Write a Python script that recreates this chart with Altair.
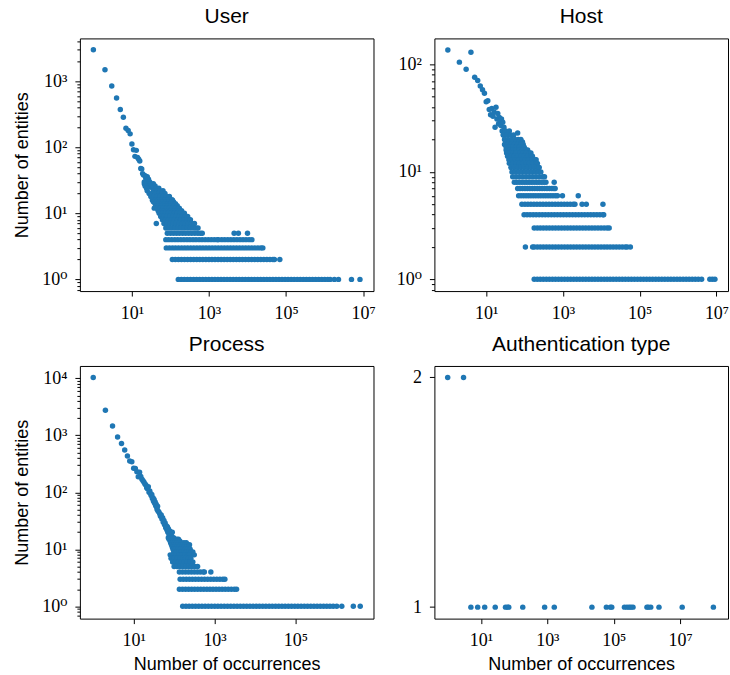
import altair as alt
import pandas as pd

# ---------------- data ----------------
titles = ["User", "Host", "Process", "Authentication type"]
x_title = "Number of occurrences"
y_title = "Number of entities"

# ----- User: single points of the steep head, then rows of equal y -----
user_points = [
    (1, 3000), (2, 1500), (3, 850), (4, 560), (5, 375), (6, 285), (7, 195), (8, 180), (9, 160), (10, 112),
    (11, 92), (12, 73), (13, 90), (14, 70), (15, 66), (16, 62), (17, 48), (18, 47), (19, 40), (20, 38),
    (21, 30), (22, 37), (23, 34), (24, 31), (25, 36), (26, 29), (27, 33), (28, 26), (29, 30), (30, 25),
    (43, 7), (112, 16), (124, 13), (200, 10), (300, 8),
]
user_rows = [
    (28, [21, 31, 36]),
    (26, [22, 33, 40]),
    (24, [24, 35, 42, 50]),
    (22, [25, 36, 44, 53, 64]),
    (20, [28, 34, 41, 50, 60, 72]),
    (18, [31, 37, 45, 54, 65, 78, 94]),
    (16, [34, 41, 49, 59, 71, 85, 102, 110]),
    (15, [36, 44, 53, 64, 77, 92, 108, 120]),
    (14, [40, 48, 58, 70, 84, 100, 118, 135]),
    (13, [42, 50, 60, 72, 86, 103, 125, 150]),
    (12, [38, 45, 54, 65, 78, 94, 113, 135, 155, 170]),
    (11, [48, 58, 69, 83, 100, 120, 144, 172, 195]),
    (10, [51, 61, 73, 88, 105, 126, 151, 181, 230]),
    (9, [56, 67, 80, 96, 115, 138, 166, 199, 239, 280]),
    (8, [62, 74, 89, 107, 128, 154, 185, 222, 266, 330]),
    (7, [68, 82, 98, 118, 141, 170, 204, 244, 293, 352, 420]),
    (6, [76, 91, 109, 131, 157, 189, 226, 272, 326, 391, 460, 520]),
    (5, [83, 100, 120, 144, 172, 207, 248, 298, 357, 429, 515, 600, 670, 4500, 5800, 10000]),
    (4, [76, 90, 108, 130, 155, 186, 223, 268, 320, 385, 460, 555, 665, 800, 960, 1150, 1380,
         1650, 1750, 2130, 2550, 3070, 3680, 4420, 5300, 6360, 7630, 9150, 11000, 13000]),
    (3, [78, 94, 113, 135, 162, 195, 234, 280, 337, 404, 485, 582, 698, 838, 1005, 1206, 1447,
         1737, 2084, 2500, 3000, 3600, 4320, 5190, 6220, 7470, 8960, 10750, 12900, 15500,
         18600, 22300, 25000]),
    (2, [112, 134, 161, 193, 232, 278, 334, 401, 481, 577, 692, 831, 997, 1196, 1435, 1722,
         2067, 2480, 2976, 3571, 4285, 5142, 6171, 7405, 8886, 10660, 12800, 15360, 18430,
         22100, 26500, 31800, 38200, 45800, 50000, 69000]),
    (1, [160, 192, 230, 276, 331, 398, 477, 573, 687, 825, 990, 1190, 1425, 1710, 2050, 2460,
         2950, 3550, 4250, 5100, 6120, 7350, 8820, 10600, 12700, 15200, 18300, 21900, 26300,
         31600, 37900, 45500, 54600, 65500, 78600, 94300, 113000, 136000, 163000, 196000,
         235000, 282000, 338000, 406000, 487000, 585000, 702000, 842000, 1010000, 1210000,
         1400000, 1800000, 2300000, 5000000, 8300000]),
]

# ----- Host -----
host_points = [
    (1, 136), (2, 105), (3, 90), (4, 130), (5, 76), (6, 71), (7, 63), (8, 58), (9, 54), (10, 45),
    (11, 46), (12, 38), (13, 34), (14, 39), (15, 33), (16, 36), (17, 26), (18, 40), (19, 31), (20, 35),
    (21, 28), (22, 32), (23, 30), (24, 27), (25, 31), (26, 24), (27, 29), (28, 22), (29, 26), (30, 23),
    (66, 23),
]
host_rows = [
    (24, [32, 40]),
    (22, [28, 35, 43, 52]),
    (20, [30, 37, 46, 56, 68, 80]),
    (19, [32, 39, 48, 59, 72, 88]),
    (18, [30, 36, 44, 54, 66, 81, 92]),
    (17, [33, 40, 49, 60, 73, 89, 98]),
    (16, [33, 40, 49, 60, 73, 89, 109, 120]),
    (15, [34, 41, 50, 61, 75, 91, 111, 135, 146]),
    (14, [36, 44, 54, 66, 80, 98, 120, 146, 160]),
    (13, [39, 47, 57, 70, 85, 104, 127, 155, 189, 200]),
    (12, [40, 49, 60, 73, 89, 109, 133, 162, 198, 215]),
    (11, [44, 54, 66, 80, 98, 120, 146, 178, 217, 240]),
    (10, [47, 57, 70, 85, 104, 127, 155, 189, 230, 265]),
    (9, [49, 60, 73, 89, 109, 133, 162, 198, 241, 294, 330]),
    (8, [54, 62, 72, 84, 97, 112, 130, 150, 175, 203, 235, 272, 315, 360, 590]),
    (7, [66, 76, 88, 102, 118, 137, 159, 184, 213, 247, 286, 331, 384, 445, 515, 580, 625]),
    (6, [70, 81, 94, 109, 126, 146, 169, 196, 227, 263, 305, 353, 409, 474, 549, 636, 720,
         970, 2500]),
    (5, [85, 102, 122, 146, 175, 210, 252, 302, 362, 434, 520, 624, 748, 897, 1076, 1290,
         1547, 1855, 2050, 3150, 4050, 11000]),
    (4, [97, 116, 139, 167, 200, 240, 288, 345, 414, 497, 596, 715, 858, 1030, 1235, 1482,
         1778, 2133, 2560, 3070, 3684, 4420, 5300, 6360, 7630, 9160, 11000, 11500]),
    (3, [178, 214, 256, 307, 369, 442, 531, 637, 764, 917, 1100, 1320, 1585, 1900, 2280, 2740,
         3290, 3940, 4730, 5680, 6810, 8180, 9810, 11800, 14100, 16000]),
    (2, [105, 162, 178, 214, 256, 307, 369, 442, 531, 637, 764, 917, 1100, 1320, 1585, 1900,
         2280, 2740, 3290, 3940, 4730, 5680, 6810, 8180, 9810, 11800, 14100, 16900, 20300,
         24400, 29300, 35100, 42100, 47000, 57000]),
    (1, [178, 214, 256, 307, 369, 442, 531, 637, 764, 917, 1100, 1320, 1585, 1900, 2280, 2740,
         3290, 3940, 4730, 5680, 6810, 8180, 9810, 11800, 14100, 16900, 20300, 24400, 29300,
         35100, 42100, 50600, 60700, 72800, 87400, 105000, 126000, 151000, 181000, 217000,
         261000, 313000, 376000, 451000, 541000, 649000, 779000, 935000, 1120000, 1350000,
         1620000, 1940000, 2330000, 2800000, 3360000, 4100000, 6700000, 7800000, 9100000]),
]

# ----- Process -----
proc_points = [
    (1, 10300), (2, 2750), (3, 1450), (4, 930), (5, 720), (6, 550), (7, 435), (8, 355), (9, 345), (10, 265),
    (11, 262), (12, 230), (13, 188), (14, 225), (15, 190), (16, 170), (17, 160), (18, 150), (19, 140), (20, 135),
    (21, 120), (22, 115), (23, 125), (24, 100), (25, 106), (26, 95), (27, 88), (28, 92), (29, 78), (30, 80),
    (31, 70), (32, 75), (33, 64), (34, 68), (35, 58), (36, 62), (37, 55), (38, 50), (39, 57), (40, 47),
    (42, 45), (44, 42), (46, 38), (48, 40), (50, 34), (52, 36), (54, 30), (56, 32), (58, 27), (60, 29),
    (62, 24), (64, 26), (66, 22), (68, 25), (70, 20), (72, 23), (75, 18), (78, 21), (81, 16), (84, 19),
    (87, 17), (90, 20),
]
proc_rows = [
    (16, [72, 80, 88, 97]),
    (15, [75, 84, 93, 104, 116, 128]),
    (14, [80, 90, 100, 112, 125, 138]),
    (13, [82, 93, 105, 118, 133, 150, 175, 200]),
    (12, [86, 98, 111, 126, 143, 162, 185, 210, 240]),
    (11, [90, 103, 118, 135, 155, 178, 205, 230]),
    (10, [94, 108, 124, 142, 163, 187, 215, 250]),
    (9, [98, 113, 130, 150, 173, 200, 230, 265, 290]),
    (8, [80, 95, 112, 132, 156, 184, 217, 240, 315]),
    (7, [84, 88, 100, 118, 139, 164, 193, 228, 260]),
    (6, [92, 108, 127, 150, 177, 209, 246, 290]),
    (5, [100, 118, 140, 165, 195, 230, 270, 320, 380]),
    (4, [135, 160, 190, 225, 266, 315, 373, 442, 523, 560, 810]),
    (3, [141, 168, 200, 238, 283, 337, 401, 477, 567, 675, 803, 955, 1136, 1352, 1608, 1800]),
    (2, [135, 161, 192, 228, 271, 322, 383, 456, 543, 646, 768, 914, 1088, 1294, 1540, 1832,
         2180, 2594, 3087, 3500]),
    (1, [163, 196, 235, 282, 338, 406, 487, 584, 701, 841, 1010, 1210, 1450, 1740, 2090, 2510,
         3010, 3610, 4330, 5200, 6240, 7490, 8990, 10800, 12900, 15500, 18600, 22400, 26800,
         32200, 38600, 46400, 55600, 66800, 80100, 96100, 115000, 138000, 166000, 199000,
         239000, 287000, 344000, 413000, 496000, 595000, 714000, 857000, 1050000, 1400000,
         2700000, 4000000]),
]

# ----- Authentication type -----
auth_x = [1, 3, 5, 8, 13, 27, 55, 63, 69, 182, 830, 1620, 22000, 60000, 79000, 87000, 210000,
          250000, 290000, 330000, 380000, 1000000, 1100000, 1300000, 2300000, 11500000, 100000000]
auth_y = [2, 2, 1, 1, 1, 1, 1, 1, 1, 1, 1, 1, 1, 1, 1, 1, 1, 1, 1, 1, 1, 1, 1, 1, 1, 1, 1]

# tick values
x_ticks = [10, 1000, 100000, 10000000]
x_ticks_proc = [10, 1000, 100000]
user_y_ticks = [1, 10, 100, 1000]
host_y_ticks = [1, 10, 100]
proc_y_ticks = [1, 10, 100, 1000, 10000]
auth_y_ticks = [1, 2]


# ---------------- build tables ----------------
def table(points, rows):
    xs = [p[0] for p in points]
    ys = [p[1] for p in points]
    for yv, xl in rows:
        xs += list(xl)
        ys += [yv] * len(xl)
    return pd.DataFrame({"x": xs, "y": ys})


user_df = table(user_points, user_rows)
host_df = table(host_points, host_rows)
proc_df = table(proc_points, proc_rows)
auth_df = pd.DataFrame({"x": auth_x, "y": auth_y})


def minor_ticks(lo_exp, hi_exp, lo, hi):
    vals = []
    for e in range(lo_exp, hi_exp + 1):
        for m in range(2, 10):
            v = m * 10.0 ** e
            if lo <= v <= hi:
                vals.append(v)
    return vals


# ---------------- chart ----------------
BLUE = "#1f77b4"
SANS = "Liberation Sans"
SERIF = "Liberation Serif, DejaVu Serif"
SUP = ("'10' + substring('⁰¹²³⁴⁵⁶⁷⁸⁹', round(log(datum.value)/LN10), "
       "round(log(datum.value)/LN10) + 1)")
W, H = 294, 253


def panel(df, title, xdom, ydom, xticks, yticks, yminor, show_xtitle, show_ytitle, ylog=True):
    xs = alt.Scale(type="log", domain=xdom, nice=False)
    if ylog:
        ys = alt.Scale(type="log", domain=ydom, nice=False)
    else:
        ys = alt.Scale(type="linear", domain=ydom, nice=False, zero=False)

    xa = dict(values=xticks, labelExpr=SUP, orient="bottom")
    if show_xtitle:
        xa.update(title=x_title, titleY=51, titleBaseline="alphabetic")
    else:
        xa.update(title=None)
    ya = dict(values=yticks, orient="left")
    if ylog:
        ya.update(labelExpr=SUP)
    else:
        ya.update(format="d")
    if show_ytitle:
        ya.update(title=y_title, titleX=-52, titleY=H / 2, titleAlign="center",
                  titleBaseline="alphabetic", titleAngle=270)
    else:
        ya.update(title=None)

    pts = alt.Chart(df).mark_circle(size=30, color=BLUE, opacity=1).encode(
        x=alt.X("x:Q", scale=xs, axis=alt.Axis(**xa)),
        y=alt.Y("y:Q", scale=ys, axis=alt.Axis(**ya)),
    )
    if yminor:
        minor = alt.Chart(df).mark_circle(opacity=0).encode(
            x=alt.X("x:Q", scale=xs, axis=alt.Axis(**xa)),
            y=alt.Y("y:Q", scale=ys, axis=alt.Axis(values=yminor, labels=False, tickSize=3,
                                                   orient="left", title=None)),
        )
        ch = alt.layer(pts, minor).resolve_axis(y="independent")
    else:
        ch = alt.layer(pts)
    return ch.properties(width=W, height=H, title=title)


user_c = panel(user_df, titles[0], [10 ** -0.35, 10 ** 7.27], [10 ** -0.177, 10 ** 3.65],
               x_ticks, user_y_ticks, minor_ticks(-1, 3, 10 ** -0.177, 10 ** 3.65), False, True)
host_c = panel(host_df, titles[1], [10 ** -0.35, 10 ** 7.30], [10 ** -0.109, 10 ** 2.242],
               x_ticks, host_y_ticks, minor_ticks(-1, 2, 10 ** -0.109, 10 ** 2.242), False, False)
proc_c = panel(proc_df, titles[2], [10 ** -0.33, 10 ** 6.93], [10 ** -0.215, 10 ** 4.216],
               x_ticks_proc, proc_y_ticks, minor_ticks(-1, 4, 10 ** -0.215, 10 ** 4.216), True, True)
auth_c = panel(auth_df, titles[3], [10 ** -0.40, 10 ** 8.44], [0.95, 2.05],
               x_ticks, auth_y_ticks, None, True, False, ylog=False)

chart = alt.concat(
    user_c, host_c, proc_c, auth_c, columns=2,
    spacing={"row": 75, "column": 61}, bounds="flush",
).properties(
    padding={"left": 13, "top": 5, "right": 0, "bottom": 0},
).configure_view(
    stroke="black", strokeWidth=1,
).configure_axis(
    grid=False, domain=False, tickColor="black", tickWidth=1, tickSize=5,
    labelFont=SERIF, labelFontSize=18, labelColor="black",
    titleFont=SANS, titleFontSize=18, titleFontWeight="normal", titleColor="black",
    labelFlush=False, labelOverlap=False,
).configure_axisX(
    labelPadding=8,
).configure_axisY(
    labelPadding=8,
).configure_title(
    font=SANS, fontSize=21, fontWeight="normal", color="black", offset=11,
    baseline="alphabetic", anchor="middle",
)

chart.save("out.html", embed_options={"renderer": "svg", "actions": False})
